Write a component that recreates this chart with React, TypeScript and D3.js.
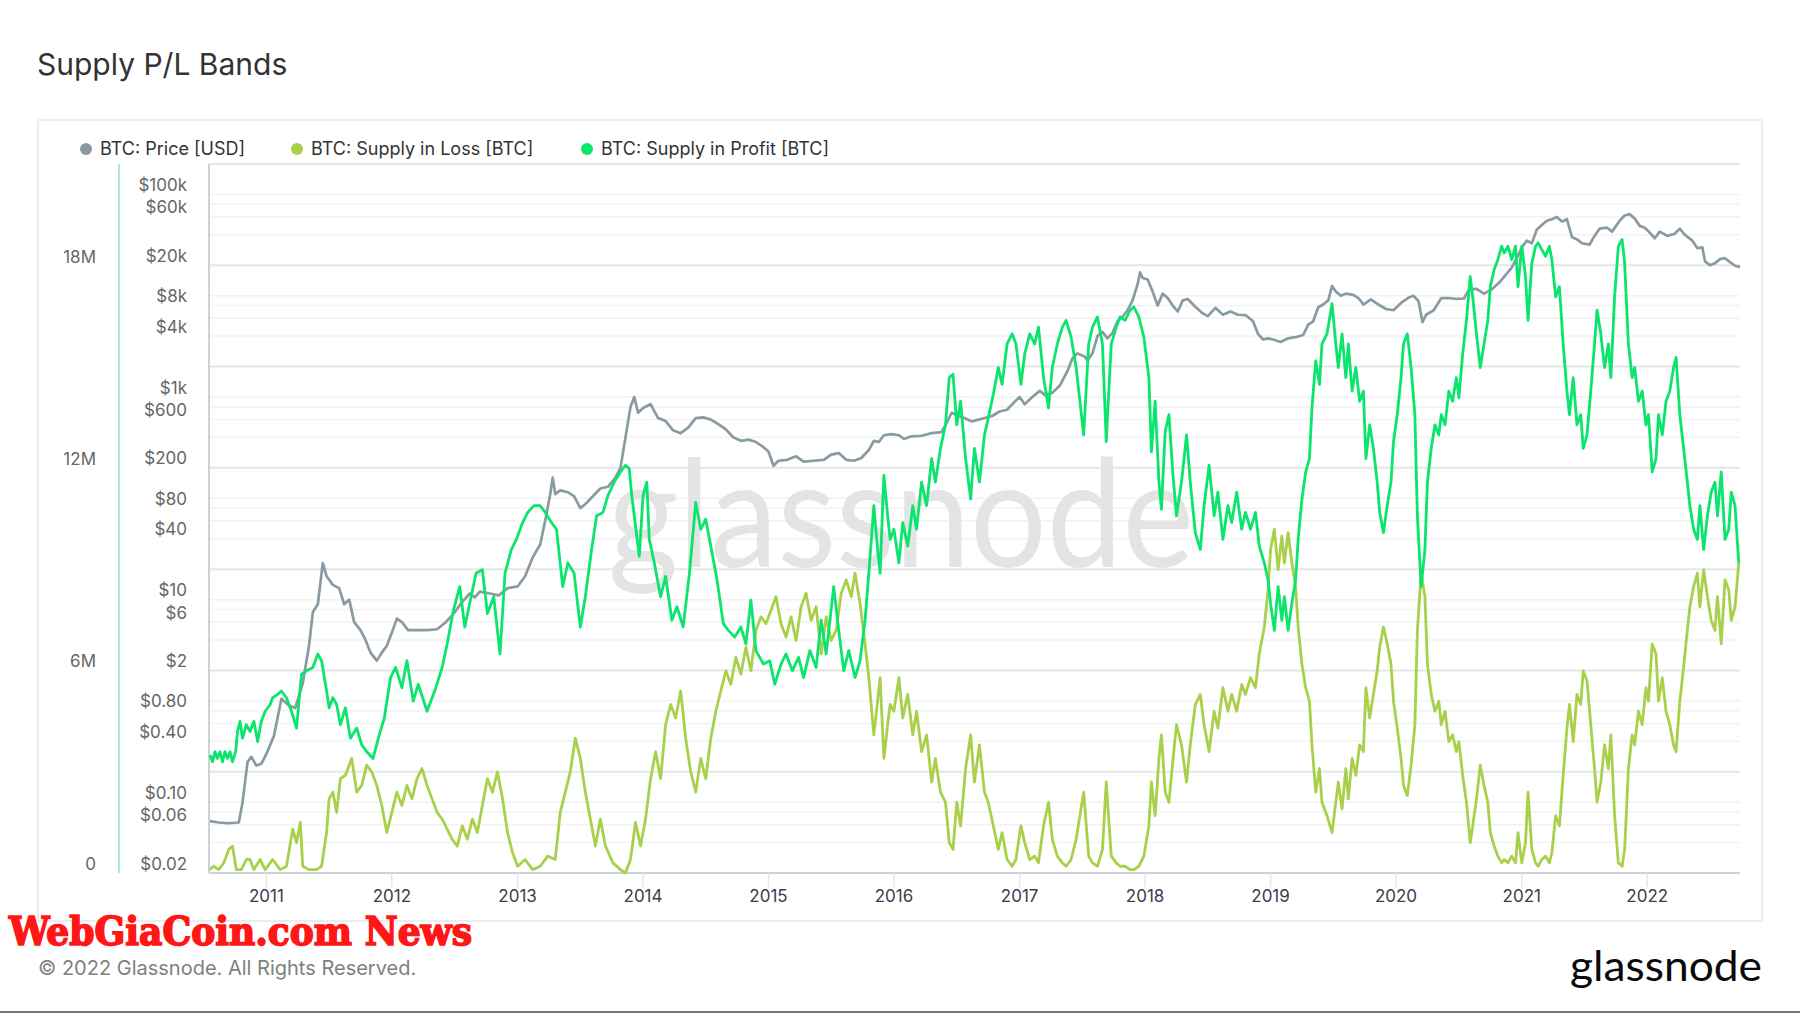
import React from 'react';
import * as d3 from 'd3';

const W = 1800;
const H = 1013;

const title = 'Supply P/L Bands';
const legendItems = [
  { label: 'BTC: Price [USD]', color: '#8a9aa2' },
  { label: 'BTC: Supply in Loss [BTC]', color: '#a9d04b' },
  { label: 'BTC: Supply in Profit [BTC]', color: '#0be46d' },
];
const yearTicks = [2011, 2012, 2013, 2014, 2015, 2016, 2017, 2018, 2019, 2020, 2021, 2022];
const priceTickLabels = [0.02, 0.06, 0.1, 0.4, 0.8, 2, 6, 10, 40, 80, 200, 600, 1000, 4000, 8000, 20000, 60000, 100000];
const priceGridBases = [0.02, 0.2, 2, 20, 200, 2000, 20000];
const priceGridMultiples = [1, 2, 3, 4, 5];
const supplyTicks = [0, 6e6, 12e6, 18e6];
const priceDomain = [0.02, 200000];
const supplyDomain = [0, 21.04e6];
const dateDomain = ['2010-07-18', '2022-09-28'];

// [decimal year, USD]
const priceData: [number, number][] = [
  [2010.55, 0.065], [2010.62, 0.063], [2010.70, 0.062], [2010.78, 0.063], [2010.81, 0.10], [2010.85, 0.25],
  [2010.88, 0.28], [2010.92, 0.23], [2010.96, 0.24], [2011.00, 0.30], [2011.06, 0.45], [2011.12, 1.05],
  [2011.18, 0.90], [2011.23, 0.85], [2011.29, 1.5], [2011.34, 3.5], [2011.37, 7.5], [2011.41, 9.0],
  [2011.45, 23], [2011.48, 17], [2011.53, 14], [2011.58, 13], [2011.62, 9], [2011.66, 10], [2011.70, 6],
  [2011.75, 5], [2011.79, 4], [2011.83, 3], [2011.88, 2.5], [2011.92, 3], [2011.96, 3.5], [2012.00, 4.7],
  [2012.04, 6.5], [2012.08, 6.0], [2012.13, 5.0], [2012.20, 5.0], [2012.28, 5.0], [2012.36, 5.1],
  [2012.43, 6.0], [2012.50, 7.5], [2012.56, 9.5], [2012.62, 11.5], [2012.66, 10.5], [2012.70, 12],
  [2012.78, 11.5], [2012.85, 11], [2012.92, 13], [2013.00, 13.5], [2013.06, 17], [2013.12, 26],
  [2013.18, 35], [2013.22, 60], [2013.26, 110], [2013.28, 160], [2013.30, 110], [2013.34, 120],
  [2013.40, 115], [2013.45, 105], [2013.50, 80], [2013.55, 90], [2013.60, 105], [2013.66, 125],
  [2013.72, 130], [2013.78, 160], [2013.82, 200], [2013.86, 400], [2013.90, 800], [2013.93, 1000],
  [2013.96, 700], [2014.00, 780], [2014.06, 850], [2014.12, 620], [2014.18, 580], [2014.24, 470],
  [2014.30, 440], [2014.36, 500], [2014.42, 620], [2014.48, 630], [2014.54, 600], [2014.60, 540],
  [2014.66, 480], [2014.72, 400], [2014.78, 370], [2014.84, 380], [2014.90, 360], [2014.96, 320],
  [2015.00, 290], [2015.04, 210], [2015.08, 235], [2015.15, 240], [2015.22, 260], [2015.28, 230],
  [2015.36, 235], [2015.44, 240], [2015.50, 270], [2015.56, 280], [2015.62, 240], [2015.68, 235],
  [2015.74, 250], [2015.80, 300], [2015.84, 370], [2015.88, 360], [2015.92, 420], [2015.98, 430],
  [2016.04, 420], [2016.08, 385], [2016.14, 410], [2016.22, 415], [2016.30, 440], [2016.38, 450],
  [2016.42, 560], [2016.46, 700], [2016.50, 660], [2016.56, 620], [2016.62, 575], [2016.70, 610],
  [2016.78, 650], [2016.84, 720], [2016.90, 750], [2016.96, 900], [2017.00, 1000], [2017.04, 850],
  [2017.10, 1000], [2017.16, 1150], [2017.20, 1050], [2017.26, 1100], [2017.32, 1300], [2017.38, 1800],
  [2017.42, 2400], [2017.46, 2700], [2017.52, 2500], [2017.54, 2300], [2017.58, 2700], [2017.62, 4000],
  [2017.66, 4400], [2017.70, 3800], [2017.74, 4300], [2017.78, 5600], [2017.82, 6200], [2017.86, 7200],
  [2017.90, 9000], [2017.94, 13000], [2017.96, 17000], [2017.98, 15000], [2018.02, 14500], [2018.06, 11000],
  [2018.10, 8000], [2018.14, 10500], [2018.18, 9500], [2018.22, 8000], [2018.26, 7000], [2018.30, 9000],
  [2018.34, 9300], [2018.40, 7800], [2018.46, 6700], [2018.50, 6300], [2018.56, 7600], [2018.62, 6500],
  [2018.68, 7000], [2018.74, 6500], [2018.80, 6450], [2018.86, 5600], [2018.90, 4200], [2018.94, 3700],
  [2018.98, 3800], [2019.02, 3700], [2019.08, 3500], [2019.14, 3800], [2019.20, 3900], [2019.26, 4100],
  [2019.30, 5200], [2019.34, 5600], [2019.38, 7700], [2019.42, 8200], [2019.46, 9000], [2019.49, 12500],
  [2019.52, 11000], [2019.56, 10000], [2019.60, 10500], [2019.66, 10200], [2019.70, 9500], [2019.74, 8200],
  [2019.80, 9200], [2019.86, 8200], [2019.92, 7400], [2019.98, 7200], [2020.04, 8500], [2020.10, 9600],
  [2020.14, 10000], [2020.18, 8800], [2020.21, 5500], [2020.24, 6500], [2020.30, 7200], [2020.36, 9500],
  [2020.42, 9500], [2020.48, 9300], [2020.54, 9400], [2020.58, 11500], [2020.64, 11700], [2020.70, 10500],
  [2020.76, 11500], [2020.82, 13500], [2020.88, 16500], [2020.92, 19000], [2020.96, 23500], [2021.00, 30000],
  [2021.04, 35000], [2021.08, 33000], [2021.12, 45000], [2021.16, 50000], [2021.20, 55000], [2021.24, 57000],
  [2021.28, 60000], [2021.32, 54000], [2021.36, 57000], [2021.40, 38000], [2021.44, 36000], [2021.48, 33000],
  [2021.54, 32000], [2021.58, 39000], [2021.62, 46000], [2021.68, 47000], [2021.72, 43000], [2021.78, 55000],
  [2021.82, 62000], [2021.86, 64000], [2021.90, 58000], [2021.94, 49000], [2021.98, 47000], [2022.02, 42000],
  [2022.06, 37000], [2022.10, 43000], [2022.16, 39000], [2022.22, 41000], [2022.26, 46000], [2022.30, 40000],
  [2022.36, 35000], [2022.40, 29500], [2022.44, 30000], [2022.46, 22000], [2022.50, 20000], [2022.54, 21000],
  [2022.58, 23000], [2022.62, 23500], [2022.66, 21500], [2022.70, 19800], [2022.74, 19200],
];

// [decimal year, million BTC]
const profitData: [number, number][] = [
  [2010.55, 3.5], [2010.57, 3.3], [2010.59, 3.6], [2010.61, 3.4], [2010.63, 3.6], [2010.65, 3.3], [2010.67, 3.6],
  [2010.69, 3.4], [2010.71, 3.6], [2010.73, 3.3], [2010.755, 3.6], [2010.77, 4.2], [2010.79, 4.5], [2010.81, 4.0],
  [2010.84, 4.4], [2010.87, 4.2], [2010.90, 4.5], [2010.93, 3.9], [2010.96, 4.5], [2010.99, 4.8], [2011.03, 5.0],
  [2011.05, 5.2], [2011.09, 5.3], [2011.12, 5.4], [2011.16, 5.2], [2011.20, 4.8], [2011.24, 4.3], [2011.28, 5.9],
  [2011.32, 6.0], [2011.37, 6.1], [2011.41, 6.5], [2011.44, 6.3], [2011.48, 5.4], [2011.50, 4.9], [2011.53, 5.2],
  [2011.56, 5.0], [2011.59, 4.4], [2011.63, 4.9], [2011.67, 4.0], [2011.72, 4.3], [2011.76, 3.8], [2011.80, 3.6],
  [2011.85, 3.4], [2011.90, 4.1], [2011.94, 4.6], [2011.99, 5.8],
  [2012.03, 6.1], [2012.08, 5.5], [2012.12, 6.3], [2012.17, 5.1], [2012.21, 5.6], [2012.28, 4.8], [2012.35, 5.5],
  [2012.40, 6.1], [2012.44, 6.8], [2012.49, 7.8], [2012.54, 8.5], [2012.58, 7.3], [2012.63, 8.2], [2012.67, 8.9],
  [2012.72, 9.0], [2012.76, 7.7], [2012.81, 8.2], [2012.86, 6.5], [2012.90, 8.9], [2012.95, 9.6], [2012.99, 9.9],
  [2013.04, 10.4], [2013.08, 10.7], [2013.13, 10.9], [2013.18, 10.9], [2013.22, 10.7], [2013.27, 10.4],
  [2013.31, 10.2], [2013.36, 8.5], [2013.40, 9.2], [2013.45, 8.9], [2013.50, 7.3], [2013.54, 8.2], [2013.59, 9.6],
  [2013.63, 10.6], [2013.68, 10.7], [2013.72, 11.2], [2013.77, 11.6], [2013.82, 11.9], [2013.86, 12.1],
  [2013.89, 12.0], [2013.91, 11.2], [2013.95, 10.0], [2013.97, 9.4], [2014.00, 11.2], [2014.03, 11.6],
  [2014.05, 9.9], [2014.09, 9.2], [2014.14, 8.2], [2014.18, 8.8], [2014.23, 7.5], [2014.27, 7.9], [2014.32, 7.3],
  [2014.37, 8.9], [2014.42, 11.0], [2014.46, 10.2], [2014.50, 10.5], [2014.55, 9.5], [2014.59, 8.7], [2014.64, 7.4],
  [2014.68, 7.2], [2014.73, 7.0], [2014.78, 7.3], [2014.82, 6.8], [2014.86, 8.1], [2014.90, 6.6], [2014.96, 6.2],
  [2015.01, 6.3], [2015.05, 5.6], [2015.10, 6.2], [2015.14, 6.5], [2015.19, 6.0], [2015.24, 6.4], [2015.28, 5.8],
  [2015.33, 6.6], [2015.38, 6.1], [2015.42, 7.5], [2015.46, 6.5], [2015.52, 8.5], [2015.56, 7.2], [2015.60, 6.0],
  [2015.64, 6.6], [2015.69, 5.8], [2015.73, 6.3], [2015.77, 7.5], [2015.80, 8.9], [2015.84, 10.9], [2015.87, 9.6],
  [2015.89, 8.9], [2015.92, 11.8], [2015.95, 10.6], [2015.97, 9.9],
  [2016.00, 10.2], [2016.04, 9.2], [2016.07, 10.4], [2016.11, 9.7], [2016.15, 10.9], [2016.18, 10.2], [2016.22, 11.6],
  [2016.26, 10.9], [2016.30, 12.3], [2016.33, 11.6], [2016.37, 12.6], [2016.41, 13.3], [2016.44, 14.7], [2016.47, 14.8],
  [2016.50, 13.3], [2016.53, 14.0], [2016.57, 12.3], [2016.61, 11.1], [2016.64, 12.6], [2016.68, 11.6], [2016.72, 13.0],
  [2016.75, 13.5], [2016.79, 14.2], [2016.83, 15.0], [2016.86, 14.5], [2016.90, 15.7], [2016.94, 16.0], [2016.97, 15.7],
  [2017.01, 14.5], [2017.04, 15.4], [2017.08, 16.0], [2017.12, 15.7], [2017.15, 16.2], [2017.19, 14.7], [2017.23, 13.8],
  [2017.26, 15.0], [2017.30, 15.7], [2017.34, 16.2], [2017.37, 16.4], [2017.41, 15.9], [2017.45, 15.0], [2017.48, 14.0],
  [2017.51, 13.0], [2017.55, 15.7], [2017.58, 16.2], [2017.62, 16.5], [2017.66, 15.7], [2017.69, 12.8], [2017.73, 15.7],
  [2017.77, 16.2], [2017.80, 16.5], [2017.84, 16.4], [2017.88, 16.7], [2017.91, 16.8], [2017.95, 16.5], [2017.99, 15.9],
  [2018.03, 14.7], [2018.05, 12.5], [2018.08, 14.0], [2018.11, 11.6], [2018.13, 10.8], [2018.16, 13.1], [2018.19, 13.6],
  [2018.22, 11.9], [2018.25, 10.6], [2018.29, 11.6], [2018.33, 13.0], [2018.36, 11.6], [2018.40, 10.1], [2018.44, 9.6],
  [2018.47, 10.9], [2018.51, 12.1], [2018.55, 10.6], [2018.58, 11.3], [2018.62, 9.9], [2018.66, 10.9], [2018.69, 10.4],
  [2018.73, 11.3], [2018.77, 10.2], [2018.80, 10.7], [2018.84, 10.2], [2018.88, 10.7], [2018.91, 9.7], [2018.95, 9.2],
  [2018.98, 8.7],
  [2019.00, 8.0], [2019.03, 7.2], [2019.06, 8.5], [2019.09, 7.5], [2019.11, 8.2], [2019.14, 7.2], [2019.17, 8.0],
  [2019.20, 8.7], [2019.22, 9.9], [2019.25, 11.1], [2019.28, 11.9], [2019.31, 12.3], [2019.33, 13.8], [2019.36, 15.2],
  [2019.39, 14.5], [2019.41, 15.7], [2019.45, 16.0], [2019.49, 16.9], [2019.52, 15.7], [2019.54, 15.0], [2019.57, 16.0],
  [2019.60, 14.7], [2019.62, 15.7], [2019.65, 14.3], [2019.68, 15.0], [2019.71, 14.0], [2019.74, 14.3], [2019.76, 12.3],
  [2019.79, 13.3], [2019.82, 12.6], [2019.85, 11.6], [2019.87, 10.7], [2019.90, 10.1], [2019.93, 10.9], [2019.96, 11.6],
  [2019.98, 12.8],
  [2020.01, 13.6], [2020.04, 14.7], [2020.06, 15.7], [2020.09, 16.0], [2020.12, 15.0], [2020.15, 13.6], [2020.17, 10.6],
  [2020.20, 8.5], [2020.23, 9.6], [2020.25, 11.6], [2020.28, 12.6], [2020.31, 13.3], [2020.34, 13.0], [2020.36, 13.6],
  [2020.39, 13.3], [2020.42, 14.3], [2020.45, 14.0], [2020.48, 14.7], [2020.50, 14.1], [2020.53, 15.4], [2020.56, 16.4],
  [2020.59, 17.7], [2020.61, 17.1], [2020.64, 16.0], [2020.67, 15.0], [2020.70, 15.7], [2020.73, 16.4], [2020.75, 17.4],
  [2020.78, 17.9], [2020.81, 18.2], [2020.84, 18.6], [2020.86, 18.4], [2020.89, 18.6], [2020.92, 18.2], [2020.95, 18.6],
  [2020.97, 17.4],
  [2021.00, 18.6], [2021.03, 17.7], [2021.05, 16.4], [2021.08, 18.1], [2021.11, 18.6], [2021.13, 18.7], [2021.16, 18.5],
  [2021.19, 18.3], [2021.22, 18.6], [2021.24, 18.2], [2021.27, 17.1], [2021.30, 17.4], [2021.33, 15.7], [2021.36, 14.3],
  [2021.38, 13.6], [2021.41, 14.7], [2021.44, 13.3], [2021.47, 13.6], [2021.49, 12.6], [2021.52, 13.0], [2021.55, 14.3],
  [2021.58, 15.7], [2021.60, 16.7], [2021.63, 16.0], [2021.66, 15.0], [2021.69, 15.7], [2021.71, 14.7], [2021.74, 17.1],
  [2021.77, 18.6], [2021.80, 18.8], [2021.82, 18.1], [2021.85, 15.7], [2021.88, 14.7], [2021.90, 15.0], [2021.93, 14.0],
  [2021.96, 14.3], [2021.99, 13.3],
  [2022.01, 13.6], [2022.04, 11.9], [2022.07, 12.3], [2022.09, 13.6], [2022.12, 13.0], [2022.15, 14.0], [2022.18, 14.3],
  [2022.21, 15.0], [2022.23, 15.3], [2022.26, 13.6], [2022.29, 12.6], [2022.32, 11.6], [2022.34, 10.9], [2022.37, 10.2],
  [2022.40, 9.9], [2022.42, 10.9], [2022.45, 9.6], [2022.48, 10.6], [2022.51, 11.3], [2022.54, 11.6], [2022.56, 10.6],
  [2022.59, 11.9], [2022.62, 9.9], [2022.65, 10.2], [2022.67, 11.3], [2022.70, 10.9], [2022.73, 9.2],
];

// [decimal year, million BTC]
const lossData: [number, number][] = [
  [2010.55, 0.1], [2010.58, 0.2], [2010.62, 0.1], [2010.66, 0.3], [2010.70, 0.7], [2010.73, 0.8], [2010.76, 0.1],
  [2010.80, 0.1], [2010.84, 0.4], [2010.87, 0.4], [2010.90, 0.1], [2010.95, 0.4], [2010.99, 0.1], [2011.05, 0.4],
  [2011.11, 0.1], [2011.16, 0.2], [2011.21, 1.3], [2011.24, 0.9], [2011.27, 1.5], [2011.29, 0.2], [2011.34, 0.1],
  [2011.40, 0.1], [2011.44, 0.2], [2011.48, 1.2], [2011.50, 2.2], [2011.53, 2.4], [2011.56, 1.8], [2011.59, 2.8],
  [2011.63, 2.9], [2011.68, 3.4], [2011.72, 2.4], [2011.76, 2.6], [2011.80, 3.2], [2011.84, 3.0], [2011.88, 2.6],
  [2011.92, 2.0], [2011.96, 1.2], [2012.00, 1.8],
  [2012.04, 2.4], [2012.08, 2.0], [2012.12, 2.6], [2012.16, 2.2], [2012.20, 2.8], [2012.24, 3.1], [2012.28, 2.6],
  [2012.32, 2.2], [2012.36, 1.8], [2012.40, 1.6], [2012.44, 1.3], [2012.48, 1.0], [2012.52, 0.8], [2012.56, 1.4],
  [2012.60, 1.0], [2012.64, 1.6], [2012.68, 1.2], [2012.72, 2.0], [2012.76, 2.8], [2012.80, 2.4], [2012.84, 3.0],
  [2012.88, 2.2], [2012.92, 1.2], [2012.96, 0.6], [2013.00, 0.2], [2013.06, 0.4], [2013.12, 0.1], [2013.18, 0.2],
  [2013.24, 0.5], [2013.30, 0.4], [2013.34, 1.8], [2013.38, 2.4], [2013.42, 3.0], [2013.46, 4.0], [2013.50, 3.4],
  [2013.54, 2.4], [2013.58, 1.6], [2013.62, 0.8], [2013.66, 1.6], [2013.70, 0.8], [2013.76, 0.3], [2013.82, 0.1],
  [2013.86, 0.0], [2013.90, 0.4], [2013.94, 1.5], [2013.98, 0.8], [2014.02, 1.6], [2014.06, 2.8], [2014.10, 3.6],
  [2014.14, 2.8], [2014.18, 4.4], [2014.22, 5.0], [2014.26, 4.6], [2014.30, 5.4], [2014.34, 4.0], [2014.38, 3.0],
  [2014.42, 2.4], [2014.46, 3.4], [2014.50, 2.8], [2014.54, 4.0], [2014.58, 4.8], [2014.62, 5.4], [2014.66, 6.0],
  [2014.70, 5.6], [2014.74, 6.4], [2014.78, 5.9], [2014.82, 6.7], [2014.86, 6.0], [2014.90, 7.2], [2014.94, 7.6],
  [2014.98, 7.4], [2015.02, 7.8], [2015.06, 8.2], [2015.10, 7.4], [2015.14, 7.0], [2015.18, 7.6], [2015.22, 6.9],
  [2015.26, 7.9], [2015.30, 8.3], [2015.34, 7.5], [2015.38, 7.9], [2015.42, 6.5], [2015.46, 7.6], [2015.50, 6.9],
  [2015.54, 7.2], [2015.58, 8.3], [2015.62, 8.7], [2015.66, 8.2], [2015.69, 8.9], [2015.73, 8.0], [2015.77, 6.8],
  [2015.80, 5.8], [2015.84, 4.1], [2015.87, 5.1], [2015.89, 5.8], [2015.92, 3.4], [2015.95, 4.4], [2015.97, 5.0],
  [2016.00, 4.8], [2016.04, 5.8], [2016.07, 4.6], [2016.11, 5.3], [2016.15, 4.1], [2016.18, 4.8], [2016.22, 3.6],
  [2016.26, 4.1], [2016.30, 2.7], [2016.33, 3.4], [2016.37, 2.4], [2016.41, 2.1], [2016.44, 0.9], [2016.47, 0.7],
  [2016.50, 2.1], [2016.53, 1.4], [2016.57, 3.1], [2016.61, 4.1], [2016.64, 2.7], [2016.68, 3.8], [2016.72, 2.4],
  [2016.75, 2.1], [2016.79, 1.4], [2016.83, 0.7], [2016.86, 1.2], [2016.90, 0.4], [2016.94, 0.2], [2016.97, 0.4],
  [2017.01, 1.4], [2017.04, 0.9], [2017.08, 0.4], [2017.12, 0.5], [2017.15, 0.3], [2017.19, 1.4], [2017.23, 2.1],
  [2017.26, 1.0], [2017.30, 0.5], [2017.34, 0.3], [2017.37, 0.2], [2017.41, 0.4], [2017.45, 1.0], [2017.48, 1.7],
  [2017.51, 2.4], [2017.55, 0.5], [2017.58, 0.3], [2017.62, 0.2], [2017.66, 0.7], [2017.69, 2.7], [2017.73, 0.5],
  [2017.77, 0.3], [2017.80, 0.2], [2017.84, 0.2], [2017.88, 0.1], [2017.91, 0.1], [2017.95, 0.2], [2017.99, 0.5],
  [2018.03, 1.4], [2018.05, 2.7], [2018.08, 1.7], [2018.11, 3.4], [2018.13, 4.1], [2018.16, 2.4], [2018.19, 2.1],
  [2018.22, 3.3], [2018.25, 4.4], [2018.29, 3.8], [2018.33, 2.7], [2018.36, 3.8], [2018.40, 5.0], [2018.44, 5.3],
  [2018.47, 4.4], [2018.51, 3.6], [2018.55, 4.8], [2018.58, 4.3], [2018.62, 5.5], [2018.66, 4.8], [2018.69, 5.3],
  [2018.73, 4.8], [2018.77, 5.6], [2018.80, 5.3], [2018.84, 5.8], [2018.88, 5.5], [2018.91, 6.5], [2018.95, 7.3],
  [2018.98, 8.4],
  [2019.00, 9.6], [2019.03, 10.2], [2019.06, 9.0], [2019.09, 10.0], [2019.11, 9.2], [2019.14, 10.1], [2019.17, 9.2],
  [2019.20, 8.5], [2019.22, 7.3], [2019.25, 6.2], [2019.28, 5.5], [2019.31, 5.1], [2019.33, 3.8], [2019.36, 2.4],
  [2019.39, 3.1], [2019.41, 2.1], [2019.45, 1.7], [2019.49, 1.2], [2019.52, 2.1], [2019.54, 2.7], [2019.57, 1.9],
  [2019.60, 3.1], [2019.62, 2.2], [2019.65, 3.4], [2019.68, 2.9], [2019.71, 3.8], [2019.74, 3.6], [2019.76, 5.5],
  [2019.79, 4.6], [2019.82, 5.3], [2019.85, 6.0], [2019.87, 6.7], [2019.90, 7.3], [2019.93, 6.8], [2019.96, 6.2],
  [2019.98, 5.1],
  [2020.01, 4.3], [2020.04, 3.4], [2020.06, 2.6], [2020.09, 2.3], [2020.12, 3.2], [2020.15, 4.4], [2020.17, 7.2],
  [2020.20, 8.9], [2020.23, 8.2], [2020.25, 6.2], [2020.28, 5.3], [2020.31, 4.8], [2020.34, 5.1], [2020.36, 4.4],
  [2020.39, 4.8], [2020.42, 3.9], [2020.45, 4.1], [2020.48, 3.6], [2020.50, 3.9], [2020.53, 2.9], [2020.56, 2.1],
  [2020.59, 0.9], [2020.61, 1.4], [2020.64, 2.2], [2020.67, 3.2], [2020.70, 2.6], [2020.73, 2.1], [2020.75, 1.2],
  [2020.78, 0.8], [2020.81, 0.5], [2020.84, 0.3], [2020.86, 0.4], [2020.89, 0.3], [2020.92, 0.5], [2020.95, 0.3],
  [2020.97, 1.2],
  [2021.00, 0.3], [2021.03, 0.9], [2021.05, 2.4], [2021.08, 0.7], [2021.11, 0.3], [2021.13, 0.2], [2021.16, 0.4],
  [2021.19, 0.5], [2021.22, 0.3], [2021.24, 0.6], [2021.27, 1.7], [2021.30, 1.4], [2021.33, 2.9], [2021.36, 4.3],
  [2021.38, 5.0], [2021.41, 3.9], [2021.44, 5.3], [2021.47, 5.0], [2021.49, 6.0], [2021.52, 5.7], [2021.55, 4.4],
  [2021.58, 3.1], [2021.60, 2.1], [2021.63, 2.7], [2021.66, 3.8], [2021.69, 3.1], [2021.71, 4.1], [2021.74, 1.7],
  [2021.77, 0.3], [2021.80, 0.2], [2021.82, 0.7], [2021.85, 3.1], [2021.88, 4.1], [2021.90, 3.8], [2021.93, 4.8],
  [2021.96, 4.4], [2021.99, 5.5],
  [2022.01, 5.1], [2022.04, 6.8], [2022.07, 6.5], [2022.09, 5.1], [2022.12, 5.8], [2022.15, 4.8], [2022.18, 4.4],
  [2022.21, 3.8], [2022.23, 3.6], [2022.26, 5.1], [2022.29, 6.1], [2022.32, 7.2], [2022.34, 7.9], [2022.37, 8.5],
  [2022.40, 8.9], [2022.42, 7.9], [2022.45, 9.0], [2022.48, 8.2], [2022.51, 7.5], [2022.54, 7.2], [2022.56, 8.2],
  [2022.59, 6.8], [2022.62, 8.7], [2022.65, 8.4], [2022.67, 7.5], [2022.70, 7.9], [2022.73, 9.2],
];

function decYearToDate(y: number): Date {
  const yr = Math.floor(y);
  const start = Date.UTC(yr, 0, 1);
  const end = Date.UTC(yr + 1, 0, 1);
  return new Date(start + (y - yr) * (end - start));
}

function fmtPrice(v: number): string {
  if (v >= 1000) return '$' + v / 1000 + 'k';
  if (v < 1) return '$' + v.toFixed(2);
  return '$' + v;
}

function fmtSupply(v: number): string {
  return v === 0 ? '0' : v / 1e6 + 'M';
}

const FONT = "Inter, 'Noto Sans', sans-serif";

export default function App() {
  const plot = { left: 209, right: 1740, top: 164, bottom: 873 };

  const x = d3
    .scaleUtc()
    .domain(dateDomain.map((d) => new Date(d + 'T00:00:00Z')))
    .range([plot.left, plot.right]);
  const yPrice = d3.scaleLog().domain(priceDomain).range([plot.bottom, plot.top]);
  const ySupply = d3.scaleLinear().domain(supplyDomain).range([plot.bottom, plot.top]);

  const priceLine = d3
    .line<[number, number]>()
    .x((d) => x(decYearToDate(d[0])))
    .y((d) => yPrice(d[1]));
  const supplyLine = d3
    .line<[number, number]>()
    .x((d) => x(decYearToDate(d[0])))
    .y((d) => ySupply(d[1] * 1e6));

  const gridLines: { v: number; major: boolean }[] = [];
  priceGridBases.forEach((b) =>
    priceGridMultiples.forEach((m) => gridLines.push({ v: b * m, major: m === 1 }))
  );
  gridLines.push({ v: priceDomain[1], major: true });

  const legendX = [86, 297, 587];

  return (
    <svg
      width={W}
      height={H}
      viewBox={`0 0 ${W} ${H}`}
      style={{ position: 'absolute', left: 0, top: 0, background: '#fff', display: 'block' }}
    >
      <rect x={0} y={0} width={W} height={H} fill="#ffffff" />
      <text x={37} y={75} fontFamily={FONT} fontSize={30} fill="#333333">
        {title}
      </text>

      <rect x={38} y={120} width={1724} height={801} fill="#fff" stroke="#e6e6e6" strokeWidth={1.5} />

      {legendItems.map((it, i) => (
        <g key={it.label}>
          <circle cx={legendX[i]} cy={149} r={6} fill={it.color} />
          <text x={legendX[i] + 14} y={155} fontFamily={FONT} fontSize={18} fill="#333333">
            {it.label}
          </text>
        </g>
      ))}

      {/* grid */}
      {gridLines.map((g, i) => (
        <line
          key={'g' + i}
          x1={plot.left}
          x2={plot.right}
          y1={yPrice(g.v)}
          y2={yPrice(g.v)}
          stroke={g.major ? '#e6e6e6' : '#f2f2f2'}
          strokeWidth={g.major ? 2 : 1.5}
        />
      ))}

      {/* watermark */}
      <text
        x={608}
        y={567}
        fontFamily="Lato, 'Open Sans', sans-serif"
        fontSize={150}
        fill="#e4e4e4"
        textLength={586}
        lengthAdjust="spacingAndGlyphs"
      >
        glassnode
      </text>

      {/* supply axis */}
      <line x1={119} x2={119} y1={plot.top} y2={plot.bottom} stroke="#a4efc6" strokeWidth={2} />
      {supplyTicks.map((t) => (
        <text
          key={'s' + t}
          x={96}
          y={ySupply(t) - 3.5}
          textAnchor="end"
          fontFamily={FONT}
          fontSize={17}
          fill="#666666"
        >
          {fmtSupply(t)}
        </text>
      ))}

      {/* price axis */}
      {priceTickLabels.map((t) => (
        <text
          key={'p' + t}
          x={187}
          y={yPrice(t) - 3.5}
          textAnchor="end"
          fontFamily={FONT}
          fontSize={17}
          fill="#666666"
        >
          {fmtPrice(t)}
        </text>
      ))}
      <line x1={plot.left} x2={plot.left} y1={plot.top} y2={plot.bottom} stroke="#ccd3d8" strokeWidth={2} />

      {/* x axis */}
      <line x1={plot.left} x2={plot.right} y1={plot.bottom} y2={plot.bottom} stroke="#ccd3d8" strokeWidth={2} />
      {yearTicks.map((yr) => {
        const xx = x(new Date(Date.UTC(yr, 0, 1)));
        return (
          <g key={'y' + yr}>
            <line x1={xx} x2={xx} y1={plot.bottom} y2={plot.bottom + 14} stroke="#e6e6e6" strokeWidth={1.5} />
            <text x={xx} y={902} textAnchor="middle" fontFamily={FONT} fontSize={17} fill="#3c3c4a">
              {yr}
            </text>
          </g>
        );
      })}

      {/* series */}
      <path d={priceLine(priceData) || ''} fill="none" stroke={legendItems[0].color} strokeWidth={2.7} strokeLinejoin="round" />
      <path d={supplyLine(lossData) || ''} fill="none" stroke={legendItems[1].color} strokeWidth={2.8} strokeLinejoin="round" />
      <path d={supplyLine(profitData) || ''} fill="none" stroke={legendItems[2].color} strokeWidth={2.8} strokeLinejoin="round" />

      {/* footer */}
      <text
        x={9}
        y={945}
        fontFamily="'DejaVu Serif Condensed', 'DejaVu Serif', serif"
        fontWeight="bold"
        fontSize={40}
        fill="#ff1616"
        stroke="#ff1616"
        strokeWidth={1.6}
        textLength={463}
        lengthAdjust="spacingAndGlyphs"
      >
        WebGiaCoin.com News
      </text>
      <text x={38} y={975} fontFamily={FONT} fontSize={20} fill="#808080">
        © 2022 Glassnode. All Rights Reserved.
      </text>
      <text
        x={1570}
        y={981}
        fontFamily="Lato, 'Open Sans', sans-serif"
        fontSize={42}
        fill="#0a0a0a"
        textLength={192}
        lengthAdjust="spacingAndGlyphs"
      >
        glassnode
      </text>
      <rect x={0} y={1011} width={W} height={2} fill="#777777" />
    </svg>
  );
}
